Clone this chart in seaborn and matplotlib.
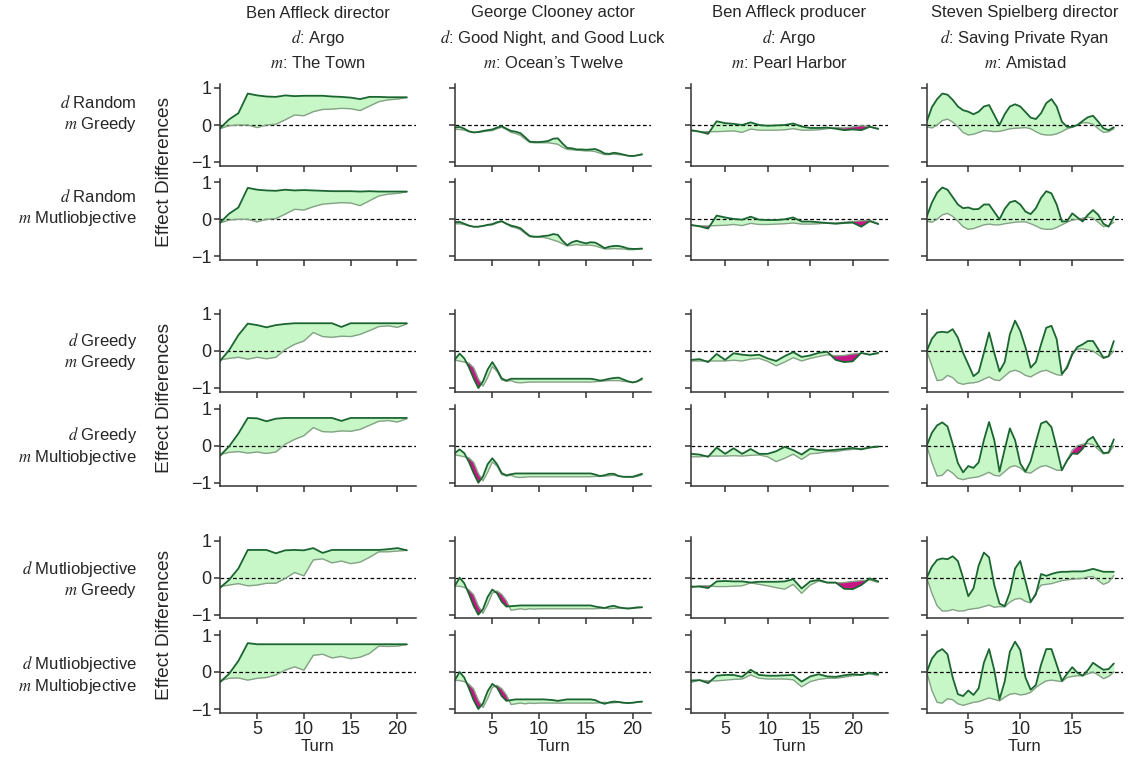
import matplotlib
matplotlib.use("Agg")
import matplotlib.pyplot as plt
import numpy as np
import seaborn as sns

# ---------------------------------------------------------------- text
COL_PEOPLE = ["Ben Affleck director", "George Clooney actor",
              "Ben Affleck producer", "Steven Spielberg director"]
COL_D = ["Argo", "Good Night, and Good Luck", "Argo", "Saving Private Ryan"]
COL_M = ["The Town", "Ocean\u2019s Twelve", "Pearl Harbor", "Amistad"]
ROW_D = ["Random", "Random", "Greedy", "Greedy", "Mutliobjective", "Mutliobjective"]
ROW_M = ["Greedy", "Mutliobjective", "Greedy", "Multiobjective", "Greedy", "Multiobjective"]

# ---------------------------------------------------------------- turns
TURNS_C1 = list(range(1, 22))
TURNS_C2 = [t / 2 for t in range(2, 43)]
TURNS_C3 = list(range(1, 24))
TURNS_C4 = [t / 2 for t in range(2, 39)]

# ---------------------------------------------------------------- column 1 (a = dark line, b = light line)
c1_r1_a = [-0.1, 0.15, 0.32, 0.85, 0.8, 0.77, 0.76, 0.8, 0.78, 0.79, 0.79,
           0.79, 0.77, 0.76, 0.74, 0.7, 0.76, 0.76, 0.75, 0.75, 0.75]
c1_r1_b = [-0.1, -0.02, 0.0, 0.0, -0.07, 0.0, 0.02, 0.14, 0.27, 0.25, 0.36,
           0.42, 0.43, 0.45, 0.44, 0.39, 0.51, 0.63, 0.68, 0.7, 0.74]
c1_r2_a = [-0.1, 0.15, 0.32, 0.85, 0.8, 0.78, 0.77, 0.8, 0.78, 0.79, 0.78,
           0.77, 0.76, 0.76, 0.76, 0.75, 0.76, 0.75, 0.75, 0.75, 0.75]
c1_r2_b = [-0.1, -0.02, 0.0, 0.0, -0.07, 0.0, 0.02, 0.14, 0.27, 0.25, 0.34,
           0.41, 0.43, 0.45, 0.44, 0.37, 0.5, 0.63, 0.68, 0.7, 0.74]
c1_r3_a = [-0.28, 0.02, 0.43, 0.74, 0.7, 0.64, 0.7, 0.73, 0.75, 0.75, 0.75,
           0.75, 0.75, 0.65, 0.75, 0.75, 0.75, 0.75, 0.75, 0.75, 0.75]
c1_r3_b = [-0.24, -0.2, -0.17, -0.22, -0.17, -0.21, -0.17, 0.04, 0.18, 0.27, 0.5,
           0.39, 0.37, 0.4, 0.39, 0.45, 0.55, 0.66, 0.68, 0.64, 0.73]
c1_r4_a = [-0.28, -0.02, 0.33, 0.75, 0.74, 0.66, 0.73, 0.75, 0.75, 0.75, 0.75,
           0.75, 0.75, 0.67, 0.75, 0.75, 0.75, 0.75, 0.75, 0.75, 0.75]
c1_r4_b = [-0.24, -0.18, -0.16, -0.2, -0.17, -0.21, -0.17, 0.04, 0.17, 0.27, 0.49,
           0.38, 0.37, 0.4, 0.39, 0.44, 0.55, 0.66, 0.68, 0.64, 0.73]
c1_r5_a = [-0.28, -0.06, 0.25, 0.75, 0.75, 0.75, 0.66, 0.74, 0.75, 0.74, 0.8,
           0.67, 0.75, 0.75, 0.75, 0.75, 0.75, 0.75, 0.77, 0.8, 0.74]
c1_r5_b = [-0.24, -0.2, -0.16, -0.22, -0.2, -0.15, -0.15, -0.02, 0.14, 0.05, 0.48,
           0.51, 0.4, 0.45, 0.38, 0.42, 0.55, 0.7, 0.7, 0.72, 0.74]
c1_r6_a = [-0.28, -0.05, 0.3, 0.78, 0.75, 0.75, 0.75, 0.75, 0.75, 0.75, 0.75,
           0.75, 0.75, 0.75, 0.75, 0.75, 0.75, 0.75, 0.75, 0.75, 0.75]
c1_r6_b = [-0.24, -0.17, -0.16, -0.22, -0.17, -0.15, -0.08, 0.05, 0.14, 0.05, 0.45,
           0.48, 0.38, 0.42, 0.36, 0.4, 0.5, 0.7, 0.69, 0.7, 0.74]

# ---------------------------------------------------------------- column 2 (half turns)
c2_r1_a = [-0.07, -0.05, -0.1, -0.17, -0.2, -0.19, -0.16, -0.14, -0.12, -0.07,
           -0.03, -0.1, -0.16, -0.18, -0.22, -0.33, -0.45, -0.46, -0.46, -0.45,
           -0.43, -0.37, -0.36, -0.5, -0.62, -0.63, -0.66, -0.66, -0.67, -0.66,
           -0.65, -0.7, -0.77, -0.78, -0.75, -0.77, -0.8, -0.83, -0.84, -0.82,
           -0.79]
c2_r1_b = [-0.12, -0.12, -0.14, -0.18, -0.2, -0.2, -0.18, -0.16, -0.15, -0.1,
           -0.06, -0.12, -0.2, -0.23, -0.28, -0.38, -0.47, -0.48, -0.48, -0.48,
           -0.48, -0.5, -0.52, -0.6, -0.66, -0.67, -0.68, -0.69, -0.7, -0.7,
           -0.72, -0.76, -0.8, -0.8, -0.79, -0.8, -0.81, -0.83, -0.84, -0.82,
           -0.8]
c2_r2_a = [-0.08, -0.07, -0.12, -0.17, -0.2, -0.2, -0.18, -0.15, -0.13, -0.08,
           -0.05, -0.12, -0.17, -0.2, -0.24, -0.35, -0.45, -0.47, -0.47, -0.45,
           -0.44, -0.4, -0.42, -0.58, -0.7, -0.62, -0.58, -0.62, -0.65, -0.62,
           -0.63, -0.7, -0.78, -0.74, -0.72, -0.72, -0.75, -0.79, -0.8, -0.8,
           -0.79]
c2_r2_b = [-0.12, -0.12, -0.14, -0.18, -0.2, -0.2, -0.18, -0.16, -0.15, -0.1,
           -0.06, -0.12, -0.2, -0.23, -0.28, -0.38, -0.47, -0.48, -0.48, -0.49,
           -0.52, -0.56, -0.6, -0.66, -0.72, -0.7, -0.68, -0.7, -0.7, -0.7,
           -0.72, -0.76, -0.8, -0.8, -0.79, -0.8, -0.8, -0.82, -0.82, -0.81,
           -0.8]
c2_r3_a = [-0.23, -0.07, -0.2, -0.44, -0.74, -1.0, -0.82, -0.5, -0.3, -0.5,
           -0.74, -0.8, -0.75, -0.75, -0.75, -0.75, -0.75, -0.75, -0.75, -0.75,
           -0.75, -0.75, -0.75, -0.75, -0.75, -0.75, -0.75, -0.75, -0.75, -0.75,
           -0.77, -0.8, -0.78, -0.75, -0.73, -0.72, -0.77, -0.82, -0.85, -0.82,
           -0.74]
c2_r3_b = [-0.25, -0.27, -0.3, -0.33, -0.45, -0.75, -0.95, -0.72, -0.42, -0.55,
           -0.78, -0.82, -0.8, -0.85, -0.86, -0.85, -0.84, -0.84, -0.84, -0.84,
           -0.84, -0.84, -0.84, -0.84, -0.84, -0.84, -0.84, -0.84, -0.84, -0.84,
           -0.83, -0.82, -0.81, -0.8, -0.8, -0.8, -0.82, -0.83, -0.85, -0.82,
           -0.78]
c2_r4_a = [-0.2, -0.1, -0.2, -0.44, -0.74, -1.0, -0.83, -0.5, -0.34, -0.5,
           -0.74, -0.8, -0.77, -0.75, -0.75, -0.75, -0.75, -0.75, -0.75, -0.75,
           -0.75, -0.75, -0.75, -0.75, -0.75, -0.75, -0.75, -0.75, -0.75, -0.75,
           -0.78, -0.82, -0.8, -0.76, -0.76, -0.82, -0.84, -0.84, -0.84, -0.8,
           -0.76]
c2_r4_b = [-0.25, -0.27, -0.3, -0.33, -0.45, -0.75, -0.95, -0.72, -0.44, -0.55,
           -0.78, -0.82, -0.8, -0.85, -0.86, -0.85, -0.84, -0.84, -0.84, -0.84,
           -0.84, -0.84, -0.84, -0.84, -0.84, -0.84, -0.84, -0.84, -0.84, -0.84,
           -0.83, -0.83, -0.82, -0.81, -0.8, -0.82, -0.84, -0.85, -0.85, -0.83,
           -0.79]
c2_r5_a = [-0.22, 0.0, -0.15, -0.44, -0.76, -1.0, -0.85, -0.52, -0.32, -0.42,
           -0.65, -0.78, -0.77, -0.76, -0.75, -0.75, -0.75, -0.75, -0.75, -0.75,
           -0.75, -0.75, -0.75, -0.75, -0.75, -0.75, -0.75, -0.75, -0.75, -0.75,
           -0.78, -0.8, -0.82, -0.78, -0.76, -0.8, -0.82, -0.83, -0.82, -0.8,
           -0.8]
c2_r5_b = [-0.23, -0.23, -0.26, -0.33, -0.46, -0.76, -0.96, -0.72, -0.42, -0.36,
           -0.45, -0.62, -0.88, -0.86, -0.84, -0.86, -0.84, -0.85, -0.84, -0.84,
           -0.84, -0.84, -0.84, -0.84, -0.84, -0.84, -0.84, -0.84, -0.84, -0.84,
           -0.84, -0.83, -0.82, -0.84, -0.83, -0.82, -0.83, -0.84, -0.83, -0.82,
           -0.8]
c2_r6_a = [-0.22, 0.0, -0.15, -0.44, -0.76, -1.0, -0.85, -0.52, -0.32, -0.42,
           -0.65, -0.78, -0.76, -0.74, -0.74, -0.74, -0.74, -0.74, -0.74, -0.74,
           -0.75, -0.76, -0.78, -0.76, -0.74, -0.74, -0.74, -0.74, -0.74, -0.74,
           -0.76, -0.82, -0.86, -0.82, -0.8, -0.81, -0.83, -0.84, -0.83, -0.81,
           -0.8]
c2_r6_b = [-0.23, -0.23, -0.26, -0.33, -0.46, -0.76, -0.96, -0.72, -0.42, -0.36,
           -0.45, -0.62, -0.88, -0.86, -0.84, -0.86, -0.84, -0.85, -0.84, -0.84,
           -0.84, -0.84, -0.84, -0.84, -0.84, -0.84, -0.84, -0.84, -0.84, -0.84,
           -0.84, -0.83, -0.82, -0.84, -0.83, -0.82, -0.83, -0.84, -0.83, -0.82,
           -0.8]

# ---------------------------------------------------------------- column 3
c3_r1_a = [-0.14, -0.18, -0.24, 0.1, 0.05, 0.03, 0.0, 0.07, 0.0, -0.02, -0.01, 0.0,
           0.04, -0.04, -0.08, -0.08, -0.07, -0.1, -0.14, -0.12, -0.14, -0.05, -0.1]
c3_r1_b = [-0.16, -0.18, -0.18, -0.18, -0.17, -0.16, -0.2, -0.11, -0.14, -0.14, -0.14, -0.13,
           -0.1, -0.14, -0.14, -0.13, -0.1, -0.07, -0.08, -0.05, -0.02, -0.04, -0.12]
c3_r2_a = [-0.15, -0.19, -0.25, 0.1, 0.05, 0.01, -0.01, 0.07, -0.01, -0.02, -0.02, 0.0,
           0.05, -0.06, -0.06, -0.08, -0.1, -0.12, -0.1, -0.09, -0.2, -0.05, -0.13]
c3_r2_b = [-0.17, -0.18, -0.18, -0.17, -0.16, -0.14, -0.17, -0.11, -0.14, -0.14, -0.13, -0.12,
           -0.1, -0.13, -0.13, -0.12, -0.1, -0.1, -0.08, -0.06, -0.04, -0.03, -0.11]
c3_r3_a = [-0.24, -0.22, -0.3, -0.08, -0.24, -0.06, -0.1, -0.12, -0.1, -0.2, -0.27, -0.14,
           -0.03, -0.16, -0.12, -0.05, -0.02, -0.24, -0.3, -0.28, -0.05, -0.1, -0.05]
c3_r3_b = [-0.27, -0.27, -0.27, -0.27, -0.27, -0.25, -0.27, -0.22, -0.2, -0.28, -0.4, -0.3,
           -0.18, -0.27, -0.2, -0.15, -0.1, -0.13, -0.12, -0.08, -0.06, -0.1, -0.07]
c3_r4_a = [-0.22, -0.24, -0.3, -0.05, -0.22, -0.07, -0.22, -0.09, -0.22, -0.22, -0.15, -0.03,
           -0.12, -0.24, -0.08, -0.12, -0.13, -0.11, -0.09, -0.06, -0.1, -0.05, -0.02]
c3_r4_b = [-0.3, -0.3, -0.28, -0.28, -0.28, -0.27, -0.28, -0.26, -0.25, -0.3, -0.43, -0.34,
           -0.23, -0.37, -0.22, -0.2, -0.16, -0.16, -0.12, -0.1, -0.08, -0.05, -0.04]
c3_r5_a = [-0.24, -0.24, -0.28, -0.1, -0.09, -0.1, -0.1, -0.13, -0.11, -0.11, -0.11, -0.1,
           -0.04, -0.29, -0.1, -0.06, -0.13, -0.13, -0.3, -0.31, -0.2, -0.02, -0.1]
c3_r5_b = [-0.27, -0.22, -0.22, -0.24, -0.24, -0.23, -0.22, -0.14, -0.18, -0.22, -0.27, -0.31,
           -0.18, -0.42, -0.2, -0.09, -0.14, -0.14, -0.13, -0.1, -0.08, -0.06, -0.13]
c3_r6_a = [-0.23, -0.22, -0.3, -0.1, -0.08, -0.08, -0.13, 0.06, -0.08, -0.1, -0.1, -0.09,
           -0.08, -0.26, -0.12, -0.06, -0.12, -0.13, -0.09, -0.06, -0.08, -0.02, -0.06]
c3_r6_b = [-0.28, -0.22, -0.24, -0.24, -0.22, -0.2, -0.19, -0.08, -0.17, -0.19, -0.19, -0.19,
           -0.21, -0.4, -0.26, -0.2, -0.17, -0.17, -0.14, -0.1, -0.08, -0.05, -0.1]

# ---------------------------------------------------------------- column 4 (half turns)
c4_r1_a = [0.09, 0.48, 0.7, 0.85, 0.82, 0.68, 0.5, 0.4, 0.36, 0.29,
           0.36, 0.5, 0.54, 0.27, 0.0, 0.29, 0.5, 0.56, 0.5, 0.35,
           0.2, 0.16, 0.32, 0.59, 0.7, 0.5, 0.09, -0.05, -0.05, 0.0,
           0.11, 0.21, 0.25, 0.09, -0.09, -0.14, -0.06]
c4_r1_b = [-0.05, -0.08, 0.0, 0.12, 0.16, 0.08, -0.05, -0.2, -0.27, -0.25,
           -0.2, -0.15, -0.16, -0.18, -0.17, -0.14, -0.1, -0.09, -0.08, -0.07,
           -0.1, -0.18, -0.25, -0.27, -0.27, -0.24, -0.18, -0.1, -0.06, 0.0,
           0.06, 0.06, 0.02, -0.1, -0.2, -0.18, -0.1]
c4_r2_a = [0.07, 0.45, 0.72, 0.86, 0.8, 0.6, 0.4, 0.3, 0.32, 0.27,
           0.28, 0.4, 0.4, 0.2, 0.0, 0.28, 0.46, 0.5, 0.4, 0.21,
           0.14, 0.3, 0.58, 0.76, 0.7, 0.4, -0.06, -0.05, 0.16, 0.05,
           -0.06, 0.12, 0.25, 0.12, -0.12, -0.2, 0.07]
c4_r2_b = [-0.05, -0.08, 0.0, 0.12, 0.16, 0.08, -0.05, -0.2, -0.27, -0.25,
           -0.2, -0.15, -0.13, -0.15, -0.15, -0.12, -0.1, -0.08, -0.07, -0.07,
           -0.12, -0.18, -0.25, -0.27, -0.27, -0.22, -0.15, -0.08, -0.02, 0.0,
           0.03, 0.06, 0.03, -0.08, -0.2, -0.17, -0.08]
c4_r3_a = [0.0, 0.33, 0.5, 0.52, 0.5, 0.59, 0.36, -0.05, -0.36, -0.68,
           -0.57, -0.05, 0.5, -0.05, -0.55, -0.3, 0.45, 0.82, 0.54, 0.1,
           -0.45, -0.3, 0.18, 0.63, 0.68, 0.32, -0.62, -0.45, -0.09, 0.11,
           0.18, 0.27, 0.27, 0.05, -0.18, -0.14, 0.27]
c4_r3_b = [0.0, -0.4, -0.8, -0.78, -0.66, -0.72, -0.86, -0.9, -0.87, -0.86,
           -0.83, -0.76, -0.7, -0.78, -0.8, -0.68, -0.56, -0.52, -0.57, -0.66,
           -0.7, -0.62, -0.55, -0.52, -0.58, -0.64, -0.66, -0.4, -0.05, 0.05,
           0.06, 0.03, 0.0, -0.1, -0.2, -0.15, 0.0]
c4_r4_a = [0.0, 0.35, 0.55, 0.63, 0.52, 0.05, -0.47, -0.72, -0.55, -0.6,
           -0.45, 0.15, 0.64, 0.15, -0.7, -0.1, 0.47, 0.15, -0.48, -0.7,
           -0.42, 0.1, 0.6, 0.66, 0.5, -0.05, -0.66, -0.4, -0.21, -0.22,
           -0.08, 0.15, 0.24, 0.0, -0.2, -0.18, 0.17]
c4_r4_b = [0.0, -0.45, -0.82, -0.8, -0.65, -0.74, -0.88, -0.92, -0.88, -0.86,
           -0.84, -0.78, -0.72, -0.8, -0.82, -0.7, -0.58, -0.54, -0.6, -0.72,
           -0.74, -0.64, -0.56, -0.54, -0.6, -0.66, -0.67, -0.4, -0.12, 0.0,
           0.04, 0.06, 0.03, -0.1, -0.22, -0.2, 0.0]
c4_r5_a = [0.0, 0.3, 0.48, 0.52, 0.5, 0.58, 0.45, 0.0, -0.5, -0.29,
           0.33, 0.68, 0.55, -0.2, -0.7, -0.77, -0.4, 0.25, 0.45, -0.1,
           -0.65, -0.45, 0.1, 0.05, 0.1, 0.14, 0.16, 0.16, 0.17, 0.17,
           0.17, 0.2, 0.24, 0.2, 0.16, 0.16, 0.16]
c4_r5_b = [0.0, -0.42, -0.76, -0.9, -0.9, -0.86, -0.9, -0.9, -0.86, -0.84,
           -0.82, -0.78, -0.74, -0.8, -0.78, -0.79, -0.66, -0.58, -0.56, -0.64,
           -0.68, -0.4, -0.2, -0.18, -0.16, -0.12, -0.08, -0.06, -0.04, -0.03,
           -0.02, 0.02, 0.03, -0.08, -0.18, -0.12, 0.06]
c4_r6_a = [0.0, 0.36, 0.54, 0.62, 0.48, -0.15, -0.6, -0.65, -0.5, -0.62,
           -0.44, 0.25, 0.62, 0.05, -0.74, -0.26, 0.55, 0.82, 0.59, -0.15,
           -0.48, -0.35, 0.2, 0.62, 0.62, 0.2, -0.24, -0.05, 0.13, -0.02,
           -0.1, 0.05, 0.25, 0.15, 0.06, 0.08, 0.23]
c4_r6_b = [0.0, -0.5, -0.82, -0.84, -0.72, -0.75, -0.86, -0.9, -0.86, -0.82,
           -0.8, -0.75, -0.7, -0.74, -0.78, -0.68, -0.6, -0.58, -0.62, -0.6,
           -0.55, -0.42, -0.32, -0.24, -0.22, -0.24, -0.26, -0.15, -0.12, -0.1,
           -0.1, -0.05, 0.0, -0.08, -0.18, -0.12, 0.0]

TURNS = [TURNS_C1, TURNS_C2, TURNS_C3, TURNS_C4]
SERIES = [
    [(c1_r1_a, c1_r1_b), (c1_r2_a, c1_r2_b), (c1_r3_a, c1_r3_b),
     (c1_r4_a, c1_r4_b), (c1_r5_a, c1_r5_b), (c1_r6_a, c1_r6_b)],
    [(c2_r1_a, c2_r1_b), (c2_r2_a, c2_r2_b), (c2_r3_a, c2_r3_b),
     (c2_r4_a, c2_r4_b), (c2_r5_a, c2_r5_b), (c2_r6_a, c2_r6_b)],
    [(c3_r1_a, c3_r1_b), (c3_r2_a, c3_r2_b), (c3_r3_a, c3_r3_b),
     (c3_r4_a, c3_r4_b), (c3_r5_a, c3_r5_b), (c3_r6_a, c3_r6_b)],
    [(c4_r1_a, c4_r1_b), (c4_r2_a, c4_r2_b), (c4_r3_a, c4_r3_b),
     (c4_r4_a, c4_r4_b), (c4_r5_a, c4_r5_b), (c4_r6_a, c4_r6_b)],
]

DARK = "#1b6531"
LIGHT = "#84a285"

sns.set_theme(style="ticks")
plt.rcParams["font.family"] = ["Liberation Sans", "DejaVu Sans"]
plt.rcParams["mathtext.fontset"] = "stix"

# layout in pixels of the 1132x759 canvas
W, H = 1132, 759
col_left = [219.7, 454.9, 691.1, 926.7]
ax_w = 196.5
row_zero = [125, 219.3, 351, 445.7, 577.7, 672]
ax_h = 81.4
label_y = [114, 208, 351.5, 446, 580, 675]

fig = plt.figure(figsize=(W / 100, H / 100), dpi=100)

for c in range(4):
    x = np.array(TURNS[c], dtype=float)
    for r in range(6):
        a = np.array(SERIES[c][r][0])
        b = np.array(SERIES[c][r][1])
        ax = fig.add_axes([col_left[c] / W, 1 - (row_zero[r] + ax_h / 2) / H,
                           ax_w / W, ax_h / H])
        ax.fill_between(x, a, b, where=a >= b, interpolate=True,
                        color="lightgreen", alpha=0.5, lw=0)
        ax.fill_between(x, a, b, where=a < b, interpolate=True,
                        color="mediumvioletred", lw=0)
        ax.axhline(0, color="black", ls=(0, (3, 2)), lw=0.9, zorder=1)
        sns.lineplot(x=x, y=b, ax=ax, color=LIGHT, lw=1.0)
        sns.lineplot(x=x, y=a, ax=ax, color=DARK, lw=1.3)

        ax.set_xlim(1, x[-1] + 0.05 * (x[-1] - 1))
        ax.set_ylim(-1.1, 1.1)
        ax.set_yticks([-1, 0, 1])
        ax.set_xticks([t for t in [5, 10, 15, 20] if t <= x[-1]])
        ax.tick_params(direction="out", length=4, width=1.1, color="0.2",
                       labelsize=13, pad=2)
        if c > 0:
            ax.set_yticklabels([])
        if r < 5:
            ax.set_xticklabels([])
        else:
            ax.set_xlabel("Turn", fontsize=12, labelpad=1)
        ax.set_ylabel("")
        for s in ax.spines.values():
            s.set_linewidth(1.1)
            s.set_color("0.2")
        sns.despine(ax=ax)

# column titles
for c in range(4):
    cx = (col_left[c] + ax_w / 2) / W
    fig.text(cx, 1 - 13 / H, COL_PEOPLE[c], ha="center", va="center", fontsize=12)
    fig.text(cx, 1 - 38 / H, "$d$: " + COL_D[c], ha="center", va="center", fontsize=12)
    fig.text(cx, 1 - 63 / H, "$m$: " + COL_M[c], ha="center", va="center", fontsize=12)

# row labels
for r in range(6):
    fig.text(137 / W, 1 - (label_y[r] - 11) / H, "$d$ " + ROW_D[r],
             ha="right", va="center", fontsize=12)
    fig.text(137 / W, 1 - (label_y[r] + 11) / H, "$m$ " + ROW_M[r],
             ha="right", va="center", fontsize=12)

# shared y labels per pair of rows
for p in range(3):
    cy = (row_zero[2 * p] + row_zero[2 * p + 1]) / 2
    fig.text(164.5 / W, 1 - cy / H, "Effect Differences", rotation=90,
             ha="center", va="center", fontsize=13.8)

fig.savefig("out.png", dpi=100)
plt.close(fig)
